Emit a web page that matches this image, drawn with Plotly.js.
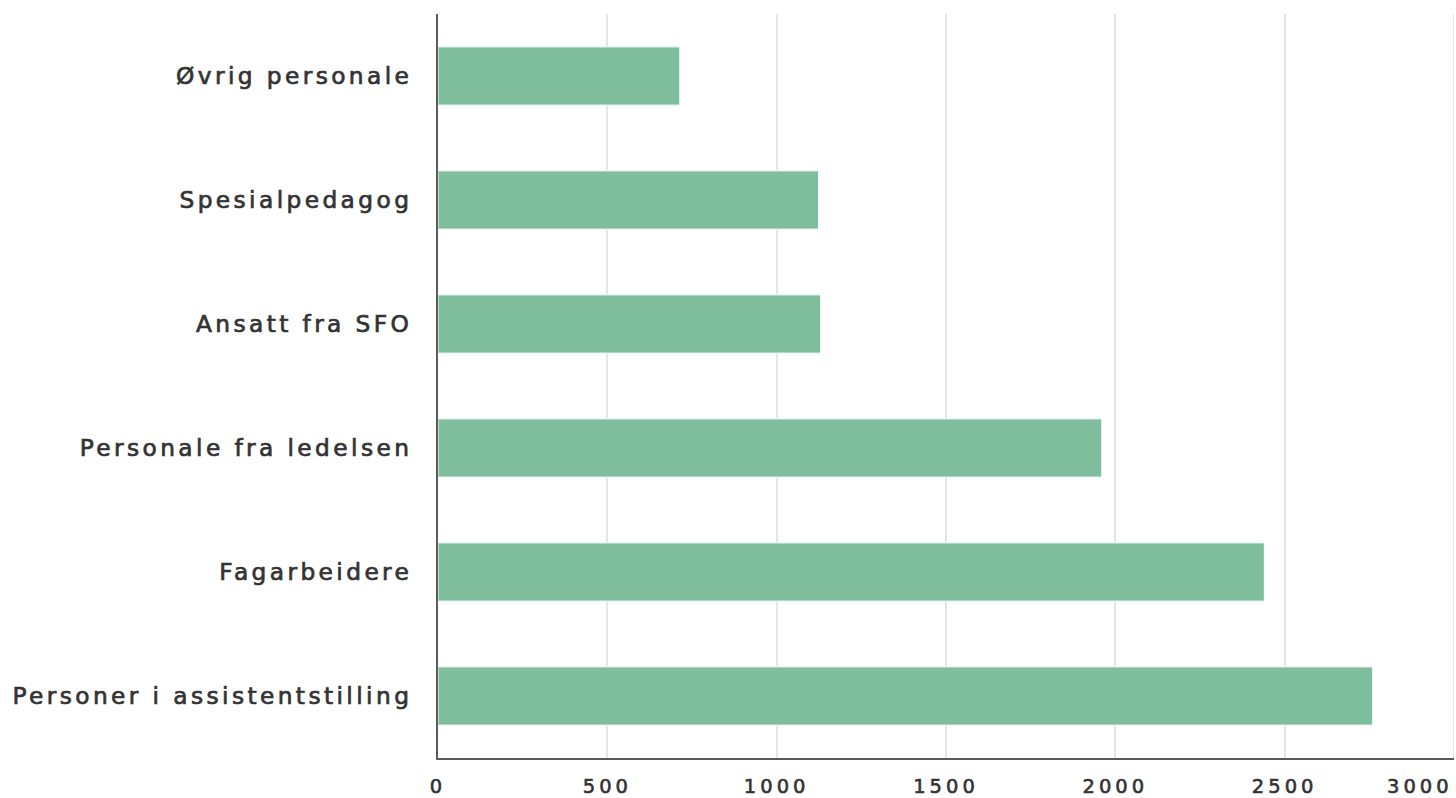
<!DOCTYPE html>
<html>
<head>
<meta charset="utf-8">
<script src="https://cdn.plot.ly/plotly-3.0.1.min.js"></script>
<style>
html, body { margin: 0; padding: 0; background: #fff; }
#chart { width: 1456px; height: 798px; }
.ytick text { letter-spacing: 3.4px; stroke: #333333; stroke-width: 0.7px; }
.xtick text, .annotation-text { letter-spacing: 4px; stroke: #333333; stroke-width: 0.6px; }
</style>
</head>
<body>
<div id="chart"></div>
<script>
// Categories listed top to bottom as in the picture
const categories = [
  "Øvrig personale",
  "Spesialpedagog",
  "Ansatt fra SFO",
  "Personale fra ledelsen",
  "Fagarbeidere",
  "Personer i assistentstilling"
];
const values = [714, 1124, 1130, 1960, 2440, 2760];
const xTickVals = [0, 500, 1000, 1500, 2000, 2500];
const xTickText = ["0", "500", "1000", "1500", "2000", "2500"];
const lastTickVal = 3000;
const lastTickText = "3000";

const trace = {
  type: "bar",
  orientation: "h",
  y: categories,
  x: values,
  marker: { color: "#7fbe9c", line: { color: "#ffffff", width: 1 } },
  hoverinfo: "x+y"
};

const layout = {
  width: 1456,
  height: 798,
  margin: { l: 438, r: 2, t: 14, b: 40 },
  paper_bgcolor: "#ffffff",
  plot_bgcolor: "#ffffff",
  showlegend: false,
  bargap: 0.53,
  font: { family: "DejaVu Sans, sans-serif", color: "#333333" },
  xaxis: {
    range: [0, 3000],
    tickvals: xTickVals,
    ticktext: xTickText,
    showgrid: true,
    gridcolor: "#e6e6e6",
    gridwidth: 2,
    zeroline: false,
    showline: true,
    linecolor: "#5a5a5a",
    linewidth: 2,
    ticks: "",
    ticklabelstandoff: 10,
    tickfont: { family: "DejaVu Sans, sans-serif", size: 19.5, color: "#333333" },
    fixedrange: true
  },
  yaxis: {
    type: "category",
    autorange: "reversed",
    showgrid: false,
    zeroline: false,
    showline: true,
    linecolor: "#5a5a5a",
    linewidth: 2,
    ticks: "",
    ticklabelstandoff: 19,
    tickfont: { family: "DejaVu Sans, sans-serif", size: 23.3, color: "#333333" },
    fixedrange: true
  },
  shapes: [{
    type: "line", xref: "x", yref: "paper",
    x0: lastTickVal, x1: lastTickVal, y0: 0, y1: 1,
    line: { color: "#e6e6e6", width: 2 }, layer: "below"
  }],
  annotations: [{
    xref: "x", yref: "paper",
    x: lastTickVal, y: 0,
    xanchor: "right", yanchor: "top",
    yshift: -16,
    borderpad: 0,
    text: lastTickText,
    showarrow: false,
    font: { family: "DejaVu Sans, sans-serif", size: 19.5, color: "#333333" }
  }]
};

Plotly.newPlot("chart", [trace], layout, { displayModeBar: false, staticPlot: true });
</script>
</body>
</html>
